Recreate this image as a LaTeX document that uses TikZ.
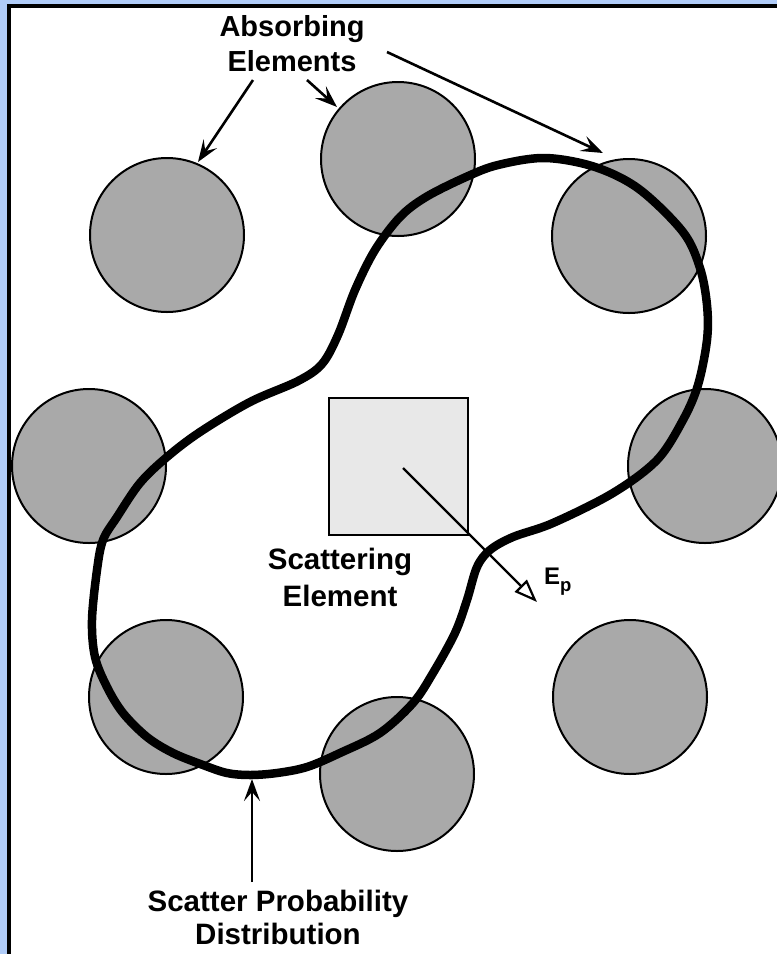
\documentclass[tikz,border=0pt]{standalone}
\usepackage{fontspec}
\setmainfont{Liberation Sans}
\usetikzlibrary{arrows.meta}
\definecolor{bluebg}{RGB}{176,204,248}
\definecolor{absgray}{RGB}{169,169,169}
\definecolor{sqgray}{RGB}{232,232,232}
\begin{document}
\begin{tikzpicture}[x=1pt,y=-1pt,
  absorber/.style={circle, draw=black, line width=2pt, fill=absgray, minimum size=154pt, inner sep=0pt},
  lbl/.style={align=center, inner sep=0pt, anchor=north},
  pointer/.style={line width=2.6pt, -{Stealth[length=22pt,width=16pt,inset=9pt]}},
  distcurve/.style={line width=8.5pt, line join=round, draw=black}
]
\useasboundingbox (0,0) rectangle (777,954);
\clip (0,0) rectangle (777,954);
% frame
\fill[bluebg] (0,0) rectangle (777,954);
\fill[white] (9,6) rectangle (800,980);
\draw[line width=4pt] (9,980) -- (9,6) -- (800,6);

% absorbing elements
\node[absorber] (tl) at (167,235) {};
\node[absorber] (tm) at (398,159) {};
\node[absorber] (tr) at (629,236) {};
\node[absorber] (ml) at (89,466) {};
\node[absorber] (mr) at (705,466) {};
\node[absorber] (bl) at (166,697) {};
\node[absorber] (bm) at (397,774) {};
\node[absorber] (br) at (630,697) {};

% scattering element
\node[draw=black, line width=2pt, fill=sqgray, minimum width=139pt, minimum height=137pt, inner sep=0pt] (sq) at (398.5,466.5) {};

% scatter probability distribution
\draw[distcurve] plot[smooth cycle, tension=0.55] coordinates {
 (545,158) (595,167) (639,189) (683,232) (700,268) (707,305) (707,340)
 (698,385) (683,420) (657,460) (613,493) (553,523) (513,537) (490,550)
 (477,567) (467,600) (455,633) (433,673) (413,703) (380,733) (340,753)
 (307,767) (277,773) (250,775) (227,773) (203,765) (173,753) (147,737)
 (123,713) (107,687) (95,657) (92,620) (97,570) (103,540) (117,517)
 (140,483) (167,457) (200,432) (250,402) (298,381) (322,364) (338,335)
 (355,290) (375,250) (400,217) (426,197) (466,177) (498,165)};

% E_p arrow
\coordinate (es) at (403,468);
\coordinate (et) at (537,602);
\draw[line width=2.2pt, -{Triangle[open, length=23pt, width=17pt, fill=white]}] (es) -- (et);
\node[anchor=base west, inner sep=0pt, font=\bfseries\fontsize{24}{28}\selectfont] (ep) at (544,584) {E\raisebox{-7pt}{\fontsize{18.5}{22}\selectfont p}};

% labels
\node[lbl, font=\bfseries\fontsize{29}{35}\selectfont] (abs) at (292,15) {Absorbing\\Elements};
\node[lbl, font=\bfseries\fontsize{29.5}{37}\selectfont] (scat) at (340,548) {Scattering\\Element};
\node[lbl, font=\bfseries\fontsize{29.5}{33}\selectfont] (dist) at (278,890) {Scatter Probability\\Distribution};

% pointers
\coordinate (a1s) at (253,80);  \coordinate (a1t) at (198,162);
\coordinate (a2s) at (307,80);  \coordinate (a2t) at (337,107);
\coordinate (a3s) at (387,52);  \coordinate (a3t) at (603,153);
\coordinate (d1s) at (252,882); \coordinate (d1t) at (252,779);
\draw[pointer] (a1s) -- (a1t);
\draw[pointer] (a2s) -- (a2t);
\draw[pointer] (a3s) -- (a3t);
\draw[pointer] (d1s) -- (d1t);
\end{tikzpicture}
\end{document}
